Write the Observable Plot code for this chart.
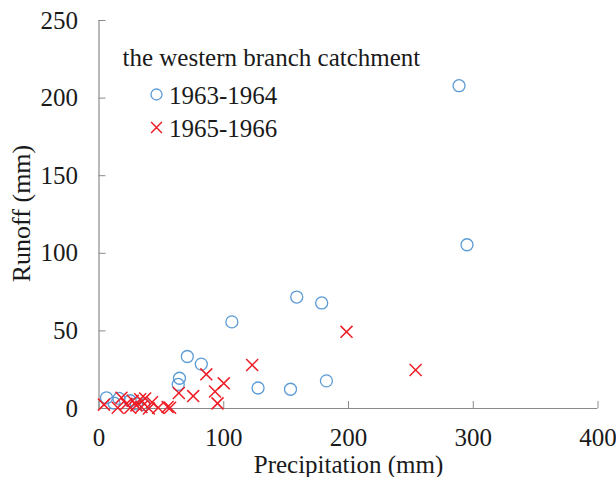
<!DOCTYPE html>
<html>
<head>
<meta charset="utf-8">
<script src="https://cdn.jsdelivr.net/npm/d3@7"></script>
<script src="https://cdn.jsdelivr.net/npm/@observablehq/plot@0.6"></script>
<style>
  html, body { margin: 0; padding: 0; background: #ffffff; }
  #chart { width: 616px; height: 477px; }
  #chart svg, #chart svg text, #chart svg g { font-family: "Liberation Serif", "Times New Roman", serif !important; }
</style>
</head>
<body>
<div id="chart"></div>
<script>
// Precipitation (mm) and runoff (mm) readings
const seriesNames = ["1963-1964", "1965-1966"];
const legendTitle = "the western branch catchment";
const xTicks = [0, 100, 200, 300, 400];
const yTicks = [0, 50, 100, 150, 200, 250];

const precip1963 = [288.6, 295, 158.5, 178.5, 106.5, 70.8, 82, 64.5, 63.5, 127.5, 153.5, 182.3, 6, 16, 12, 25, 30, 36];
const runoff1963 = [208, 105.5, 71.8, 68, 55.8, 33.5, 28.6, 19.5, 15.5, 13.2, 12.4, 17.8, 6.9, 6.5, 3.5, 5, 3, 2.5];

const precip1965 = [198.4, 253.8, 122.8, 86, 100, 64, 75.5, 93, 95, 57, 47.5, 42.5, 37, 33, 30, 27, 18, 15, 4, 22, 25, 34, 40, 55];
const runoff1965 = [49.4, 24.8, 28, 22, 16.2, 10, 8, 11, 3.3, 0.5, 0.5, 4, 6.5, 6, 2, 5, 7, 0.5, 2.5, 3, 0.5, 1, 0, 1];

const blue = "#5b9bd5";
const red = "#ee1c25";
const axisGray = "#8a8a8a";
const ink = "#1a1a1a";
const serif = "Liberation Serif";

const d1963 = precip1963.map((p, i) => ({p, r: runoff1963[i]}));
const d1965 = precip1965.map((p, i) => ({p, r: runoff1965[i]}));

const chart = Plot.plot({
  width: 616,
  height: 477,
  marginLeft: 98.5,
  marginRight: 18.5,
  marginTop: 20,
  marginBottom: 69,
  style: {fontFamily: serif, fontSize: "25px", color: ink, background: "#ffffff"},
  x: {domain: [0, 400]},
  y: {domain: [0, 250]},
  marks: [
    Plot.axisX(xTicks, {tickSize: -7, tickPadding: 27, stroke: axisGray, label: null, fontSize: 25, fontFamily: serif, fontVariant: "normal", fill: ink}),
    Plot.axisY(yTicks, {tickSize: -7, tickPadding: 28, stroke: axisGray, label: null, fontSize: 25, fontFamily: serif, fontVariant: "normal", fill: ink}),
    Plot.ruleX([0], {stroke: axisGray, strokeWidth: 1.2}),
    Plot.ruleY([0], {stroke: axisGray, strokeWidth: 1.2}),
    Plot.dot(d1963, {x: "p", y: "r", r: 6, stroke: blue, strokeWidth: 1.3, fill: "none"}),
    Plot.dot(d1965, {x: "p", y: "r", r: 5.5, symbol: "times", stroke: red, strokeWidth: 1.5}),
    // legend inside the frame
    Plot.text([legendTitle], {frameAnchor: "top-left", dx: 23.5, dy: 37, textAnchor: "start", lineAnchor: "middle", fontSize: 25, fontFamily: serif, fill: ink}),
    Plot.dot([seriesNames[0]], {frameAnchor: "top-left", dx: 57.5, dy: 74, r: 5.5, stroke: blue, strokeWidth: 1.3, fill: "none"}),
    Plot.text([seriesNames[0]], {frameAnchor: "top-left", dx: 70, dy: 75, textAnchor: "start", lineAnchor: "middle", fontSize: 25, fontFamily: serif, fill: ink}),
    Plot.dot([seriesNames[1]], {frameAnchor: "top-left", dx: 57.5, dy: 107, r: 5, symbol: "times", stroke: red, strokeWidth: 1.5}),
    Plot.text([seriesNames[1]], {frameAnchor: "top-left", dx: 70, dy: 108, textAnchor: "start", lineAnchor: "middle", fontSize: 25, fontFamily: serif, fill: ink}),
    // axis titles
    Plot.text(["Precipitation (mm)"], {frameAnchor: "bottom", dy: 56, lineAnchor: "middle", fontSize: 25, fontFamily: serif, fill: ink}),
    Plot.text(["Runoff (mm)"], {frameAnchor: "left", dx: -77, dy: -1, rotate: -90, textAnchor: "middle", lineAnchor: "middle", fontSize: 26, fontFamily: serif, fill: ink})
  ]
});
document.getElementById("chart").appendChild(chart);
</script>
</body>
</html>
